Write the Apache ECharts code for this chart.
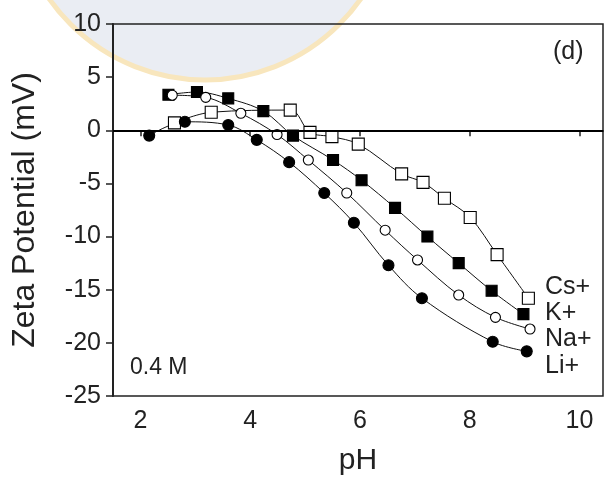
<!DOCTYPE html>
<html><head><meta charset="utf-8">
<script src="https://cdn.jsdelivr.net/npm/echarts@6/dist/echarts.min.js"></script>
<style>html,body{margin:0;padding:0;background:#fff}#c{width:605px;height:477px}</style>
</head><body><div id="c"></div>
<script>
// pH / zeta potential data, 0.4 M
const liData = [[2.16,-0.5],[2.81,0.8],[3.60,0.5],[4.12,-0.9],[4.71,-3.0],[5.35,-5.9],[5.89,-8.7],[6.52,-12.7],[7.13,-15.8],[8.42,-19.9],[9.04,-20.8]];
const naData = [[2.58,3.3],[3.19,3.1],[3.83,1.6],[4.49,-0.4],[5.06,-2.8],[5.76,-5.9],[6.46,-9.4],[7.05,-12.2],[7.80,-15.5],[8.47,-17.6],[9.10,-18.7]];
const kData = [[2.51,3.35],[3.03,3.6],[3.60,3.0],[4.24,1.8],[4.78,-0.5],[5.51,-2.8],[6.03,-4.7],[6.64,-7.3],[7.23,-10.0],[7.80,-12.5],[8.40,-15.1],[8.98,-17.3]];
const csData = [[2.62,0.7],[3.29,1.7],[4.73,1.9],[5.09,-0.2],[5.49,-0.6],[5.97,-1.3],[6.76,-4.1],[7.15,-4.9],[7.54,-6.4],[8.01,-8.2],[8.50,-11.7],[9.07,-15.8]];
const xTicks = [2,4,6,8,10];
const seriesNames = ['Cs+','K+','Na+','Li+'];

const chart = echarts.init(document.getElementById('c'));
const ff = 'Liberation Sans, Arial, sans-serif';
function mk(name, data, symbol, size, fill) {
  return {
    name, type: 'line', data, symbol, symbolSize: size, smooth: 0.35,
    lineStyle: {color: '#111', width: 1},
    itemStyle: {color: fill, borderColor: '#000', borderWidth: 1.1},
    z: 3
  };
}
chart.setOption({
  animation: false,
  graphic: [
    {type: 'circle', shape: {cx: 205, cy: -110, r: 190}, style: {fill: '#eaedf3', stroke: '#f8e6bd', lineWidth: 5}, z: -10, silent: true},
    {type: 'text', left: 553, top: 40, style: {text: '(d)', font: '25px ' + ff, fill: '#222'}},
    {type: 'text', left: 130, top: 356, style: {text: '0.4 M', font: '23px ' + ff, fill: '#222'}},
    {type: 'text', left: 545, top: 275, style: {text: seriesNames[0], font: '25px ' + ff, fill: '#222'}},
    {type: 'text', left: 545, top: 301, style: {text: seriesNames[1], font: '25px ' + ff, fill: '#222'}},
    {type: 'text', left: 545, top: 327, style: {text: seriesNames[2], font: '25px ' + ff, fill: '#222'}},
    {type: 'text', left: 545, top: 354, style: {text: seriesNames[3], font: '25px ' + ff, fill: '#222'}}
  ],
  grid: {left: 113, right: 2, top: 24, bottom: 81, outerBoundsMode: 'none', containLabel: false, show: true, borderColor: '#222', borderWidth: 1.5, backgroundColor: 'transparent'},
  xAxis: {
    type: 'value', min: 1.5, max: 10.43,
    name: 'pH', nameLocation: 'middle', nameGap: 50,
    nameTextStyle: {fontSize: 30, color: '#222', fontFamily: ff},
    axisLine: {show: true, lineStyle: {color: '#222', width: 2}},
    axisTick: {show: true, length: 6, lineStyle: {color: '#222', width: 1.5}, customValues: xTicks},
    axisLabel: {fontSize: 25, color: '#222', fontFamily: ff, margin: 13, customValues: xTicks},
    splitLine: {show: false}
  },
  yAxis: {
    type: 'value', min: -25, max: 10, interval: 5,
    name: 'Zeta Potential (mV)', nameLocation: 'middle', nameGap: 72,
    nameTextStyle: {fontSize: 32, color: '#222', fontFamily: ff},
    axisLine: {show: true, lineStyle: {color: '#222', width: 2}},
    axisTick: {show: true, length: 7, lineStyle: {color: '#222', width: 1.5}},
    axisLabel: {fontSize: 25, color: '#222', fontFamily: ff, margin: 12},
    splitLine: {show: false}
  },
  series: [
    Object.assign(mk('Cs+', csData, 'rect', 12, '#fff'), {
      markLine: {silent: true, symbol: 'none', label: {show: false}, lineStyle: {color: '#000', width: 2, type: 'solid'}, data: [{yAxis: 0}]}
    }),
    mk('K+', kData, 'rect', 11, '#000'),
    mk('Na+', naData, 'circle', 10, '#fff'),
    mk('Li+', liData, 'circle', 11, '#000')
  ]
});
</script></body></html>
